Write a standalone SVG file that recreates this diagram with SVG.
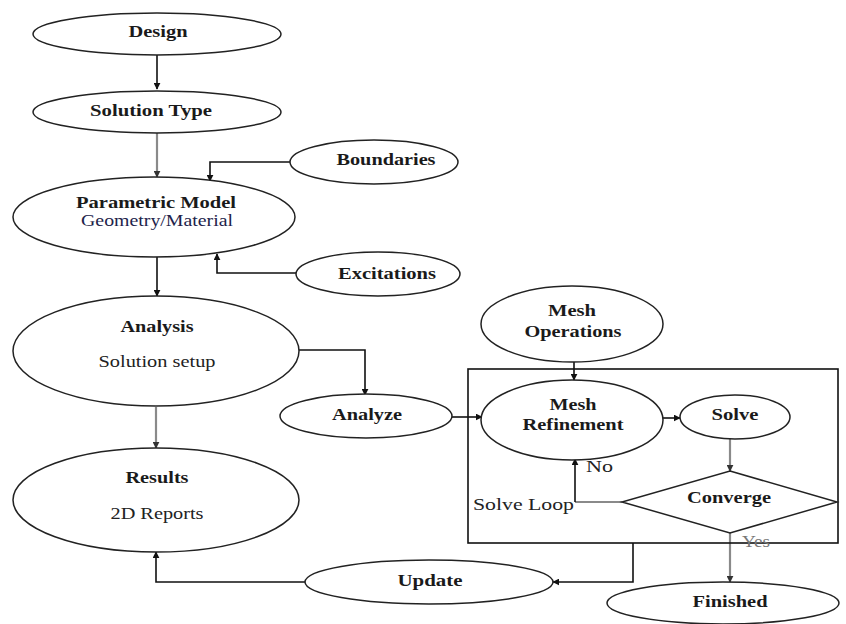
<svg xmlns="http://www.w3.org/2000/svg" width="846" height="624" viewBox="0 0 846 624">
<style>
.n{fill:#fff;stroke:#222;stroke-width:1.5}
.b{font-family:"Liberation Serif","Times New Roman",serif;font-weight:bold;font-size:16px;fill:#1a1a1a;text-anchor:middle}
.r{font-family:"Liberation Serif","Times New Roman",serif;font-size:16px;fill:#222;text-anchor:middle}
.c{fill:none;stroke:#111;stroke-width:1.6}
.g{fill:none;stroke:#8a8a8a;stroke-width:2.2}
</style>
<defs>
<marker id="ab" viewBox="0 0 10 10" refX="9" refY="5" markerWidth="7" markerHeight="7" markerUnits="userSpaceOnUse" orient="auto"><path d="M0,0L10,5L0,10z" fill="#111"/></marker>
<marker id="ag" viewBox="0 0 10 10" refX="9" refY="5" markerWidth="7" markerHeight="7" markerUnits="userSpaceOnUse" orient="auto"><path d="M0,0L10,5L0,10z" fill="#333"/></marker>
</defs>
<g id="connectors">
<path class="c" d="M157,55V89" marker-end="url(#ab)"/>
<path class="g" d="M157,133V177" marker-end="url(#ag)"/>
<path class="c" d="M290,162H210V181" marker-end="url(#ab)"/>
<path class="c" d="M296,273H217V254" marker-end="url(#ab)"/>
<path class="c" d="M157,257V296" marker-end="url(#ab)"/>
<path class="c" d="M299,350H365V395" marker-end="url(#ab)"/>
<path class="g" d="M156,407V448" marker-end="url(#ag)"/>
<path class="c" d="M452,417H482" marker-end="url(#ab)"/>
<path class="c" d="M574,362V380" marker-end="url(#ab)"/>
<path class="c" d="M663,418H680" marker-end="url(#ab)"/>
<path class="g" d="M730,438V471" marker-end="url(#ag)"/>
<path class="g" d="M622,502H575"/>
<path class="c" d="M575,502V459" marker-end="url(#ab)"/>
<path class="g" d="M730,533V582" marker-end="url(#ag)"/>
<path class="c" d="M633,543V582H553" marker-end="url(#ab)"/>
<path class="c" d="M305,582H156V552" marker-end="url(#ab)"/>
<rect x="468" y="369" width="370" height="174" fill="none" stroke="#111" stroke-width="1.6"/>
<text class="r" x="586" y="472" text-anchor="start" style="text-anchor:start" textLength="27" lengthAdjust="spacingAndGlyphs">No</text>
<text class="r" x="473" y="510" style="text-anchor:start" textLength="101" lengthAdjust="spacingAndGlyphs">Solve Loop</text>
<text class="r" x="742" y="547" style="text-anchor:start;fill:#777" textLength="28" lengthAdjust="spacingAndGlyphs">Yes</text>
</g>
<g id="design"><ellipse class="n" cx="157" cy="34" rx="124" ry="21"/><text class="b" x="158" y="37" textLength="59" lengthAdjust="spacingAndGlyphs">Design</text></g>
<g id="solution-type"><ellipse class="n" cx="157" cy="112" rx="124" ry="21"/><text class="b" x="151" y="116" textLength="122" lengthAdjust="spacingAndGlyphs">Solution Type</text></g>
<g id="parametric-model"><ellipse class="n" cx="154" cy="217" rx="141" ry="40"/><text class="b" x="156" y="208" textLength="160" lengthAdjust="spacingAndGlyphs">Parametric Model</text><text class="r" x="157" y="226" style="fill:#22224a" textLength="152" lengthAdjust="spacingAndGlyphs">Geometry/Material</text></g>
<g id="boundaries"><ellipse class="n" cx="374" cy="162" rx="84" ry="22"/><text class="b" x="386" y="165" textLength="99" lengthAdjust="spacingAndGlyphs">Boundaries</text></g>
<g id="excitations"><ellipse class="n" cx="378" cy="274" rx="82" ry="22"/><text class="b" x="387" y="279" textLength="98" lengthAdjust="spacingAndGlyphs">Excitations</text></g>
<g id="analysis"><ellipse class="n" cx="156" cy="351" rx="143" ry="55"/><text class="b" x="157" y="332" textLength="73" lengthAdjust="spacingAndGlyphs">Analysis</text><text class="r" x="157" y="367" textLength="117" lengthAdjust="spacingAndGlyphs">Solution setup</text></g>
<g id="analyze"><ellipse class="n" cx="366" cy="416" rx="86" ry="22"/><text class="b" x="367" y="420" textLength="70" lengthAdjust="spacingAndGlyphs">Analyze</text></g>
<g id="results"><ellipse class="n" cx="156" cy="500" rx="143" ry="52"/><text class="b" x="157" y="483" textLength="63" lengthAdjust="spacingAndGlyphs">Results</text><text class="r" x="157" y="519" textLength="93" lengthAdjust="spacingAndGlyphs">2D Reports</text></g>
<g id="update"><ellipse class="n" cx="429" cy="582" rx="124" ry="22"/><text class="b" x="430" y="586" textLength="65" lengthAdjust="spacingAndGlyphs">Update</text></g>
<g id="mesh-operations"><ellipse class="n" cx="572" cy="324" rx="91" ry="38"/><text class="b" x="572" y="316" textLength="48" lengthAdjust="spacingAndGlyphs">Mesh</text><text class="b" x="573" y="337" textLength="97" lengthAdjust="spacingAndGlyphs">Operations</text></g>
<g id="mesh-refinement"><ellipse class="n" cx="572" cy="420" rx="91" ry="40"/><text class="b" x="573" y="410" textLength="47" lengthAdjust="spacingAndGlyphs">Mesh</text><text class="b" x="573" y="430" textLength="101" lengthAdjust="spacingAndGlyphs">Refinement</text></g>
<g id="solve"><ellipse class="n" cx="735" cy="417" rx="55" ry="22"/><text class="b" x="735" y="420" textLength="47" lengthAdjust="spacingAndGlyphs">Solve</text></g>
<g id="converge"><path class="n" d="M730,471L837,502L730,533L622,502z"/><text class="b" x="729" y="503" textLength="84" lengthAdjust="spacingAndGlyphs">Converge</text></g>
<g id="finished"><ellipse class="n" cx="723" cy="603" rx="116" ry="21"/><text class="b" x="730" y="607" textLength="75" lengthAdjust="spacingAndGlyphs">Finished</text></g>
</svg>
